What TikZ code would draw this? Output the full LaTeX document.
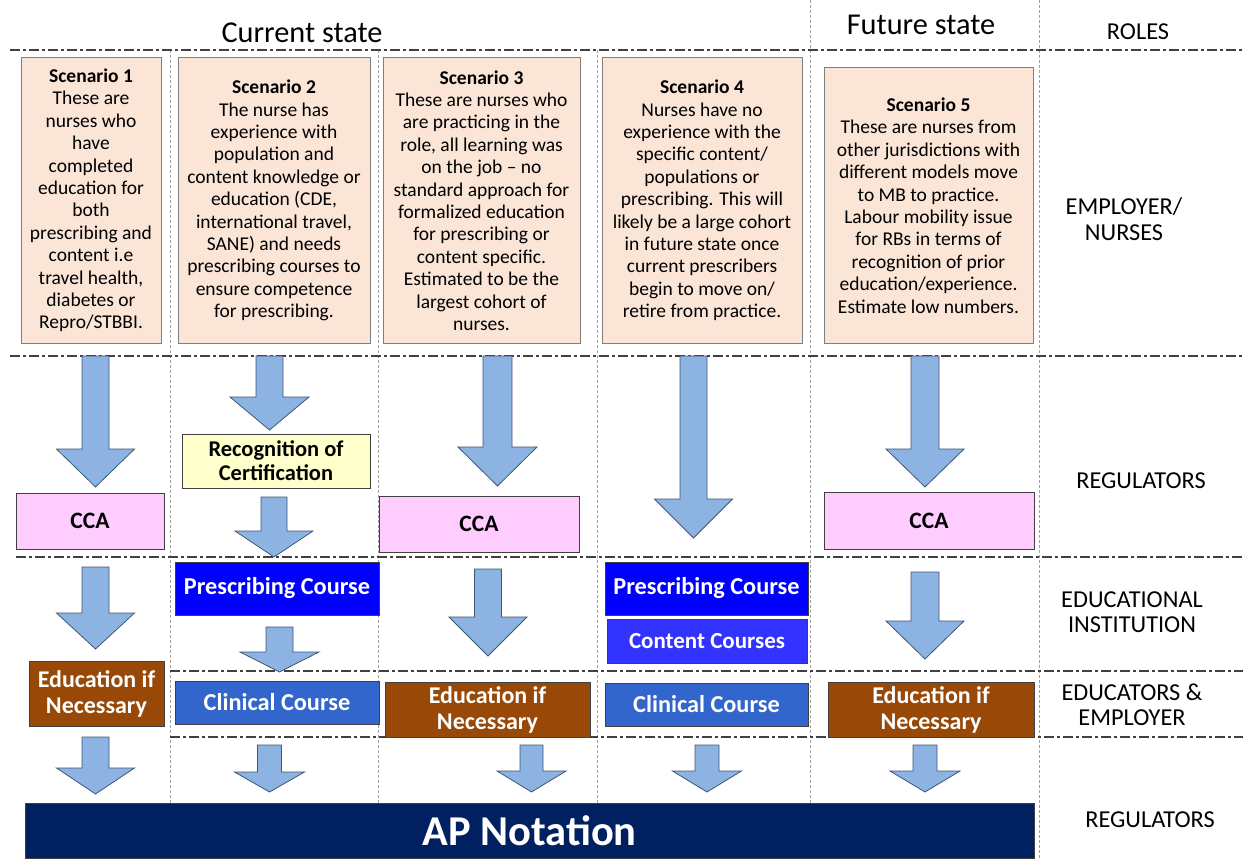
\documentclass[tikz,border=0pt]{standalone}
\usepackage{fontspec}
\setmainfont{Carlito}
\definecolor{peach}{HTML}{FBE5D6}
\definecolor{scborder}{HTML}{7F7F7F}
\definecolor{ccapink}{HTML}{FFCCFF}
\definecolor{recyel}{HTML}{FFFFCC}
\definecolor{prescblue}{HTML}{0000FF}
\definecolor{contblue}{HTML}{3333FF}
\definecolor{clinblue}{HTML}{3366CC}
\definecolor{edubrown}{HTML}{984807}
\definecolor{apnavy}{HTML}{002060}
\definecolor{arrfill}{HTML}{8DB3E2}
\definecolor{arrdraw}{HTML}{3F5578}
\definecolor{sepline}{HTML}{404040}
\definecolor{colline}{HTML}{A0A0A0}
\newcommand\blkarrow[6]{%
  \draw[barrow] ({#1-#2},#4) -- ({#1+#2},#4) -- ({#1+#2},#5) -- ({#1+#3},#5) -- (#1,#6) -- ({#1-#3},#5) -- ({#1-#2},#5) -- cycle;}
\newcommand\rbox[7]{%
  \node[#2, minimum width={#5-#3}, minimum height={#6-#4}] (#1) at ({(#3+#5)/2},{(#4+#6)/2}) {#7};}
\tikzset{
  sep/.style={draw=sepline, line width=1.3pt, dash pattern=on 10pt off 3pt on 3pt off 3pt},
  colsep/.style={draw=colline, line width=0.7pt, dash pattern=on 3pt off 2pt},
  barrow/.style={fill=arrfill, draw=arrdraw, line width=0.8pt, line join=miter},
  basebox/.style={rectangle, inner sep=0pt, line width=1pt, align=center},
  scen/.style={basebox, fill=peach, draw=scborder, font=\fontsize{19.5}{22.4}\selectfont},
  cca/.style={basebox, fill=ccapink, draw=sepline, font=\bfseries\fontsize{23.5}{25}\selectfont},
  rec/.style={basebox, fill=recyel, draw=sepline, font=\bfseries\fontsize{22.5}{24}\selectfont},
  presc/.style={basebox, fill=prescblue, draw=sepline, text=white, font=\bfseries\fontsize{24.3}{25}\selectfont},
  cont/.style={basebox, fill=contblue, draw=sepline, text=white, font=\bfseries\fontsize{23}{25}\selectfont},
  clin/.style={basebox, fill=clinblue, draw=sepline, text=white, font=\bfseries\fontsize{24.3}{25}\selectfont},
  edu/.style={basebox, fill=edubrown, draw=sepline, text=white, font=\bfseries\fontsize{24}{26}\selectfont},
  ap/.style={basebox, fill=apnavy, draw=sepline, text=white, font=\bfseries\fontsize{42.5}{44}\selectfont},
  title/.style={inner sep=0pt, font=\fontsize{30.3}{32}\selectfont},
  role/.style={inner sep=0pt, align=center, font=\fontsize{24.3}{25.5}\selectfont},
}
\begin{document}
\begin{tikzpicture}[x=1pt, y=-1pt]
\useasboundingbox (0,0) rectangle (1243,859);
% column separators
\draw[colsep] (170,50) -- (170,803);
\draw[colsep] (378,50) -- (378,803);
\draw[colsep] (597,50) -- (597,803);
\draw[colsep] (810,0) -- (810,803);
\draw[colsep] (1039,0) -- (1039,859);
% row separators
\draw[sep] (10,50) -- (1243,50);
\draw[sep] (10,356) -- (1243,356);
\draw[sep] (16,557) -- (1243,557);
\draw[sep] (170,671) -- (1243,671);
\draw[sep] (170,737) -- (1243,737);
% titles
\node[title] (cur) at (302,33) {Current state};
\node[title] (fut) at (921,25) {Future state};
% roles
\node[role] (r1) at (1138,32) {ROLES};
\node[role] (r2) at (1124,219) {EMPLOYER/\\NURSES};
\node[role] (r3) at (1141,481) {REGULATORS};
\node[role] (r4) at (1132,612) {EDUCATIONAL\\INSTITUTION};
\node[role] (r5) at (1132,705) {EDUCATORS \&\\EMPLOYER};
\node[role] (r6) at (1150,820) {REGULATORS};
% scenarios
\rbox{s1}{scen}{21}{58}{161}{343}{\textbf{Scenario 1}\\These are\\nurses who\\have\\completed\\education for\\both\\prescribing and\\content i.e\\travel health,\\diabetes or\\Repro/STBBI.}
\rbox{s2}{scen}{178}{58}{370}{343}{\textbf{Scenario 2}\\The nurse has\\experience with\\population and\\content knowledge or\\education (CDE,\\international travel,\\SANE) and needs\\prescribing courses to\\ensure competence\\for prescribing.}
\rbox{s3}{scen}{383}{58}{580}{343}{\textbf{Scenario 3}\\These are nurses who\\are practicing in the\\role, all learning was\\on the job – no\\standard approach for\\formalized education\\for prescribing or\\content specific.\\Estimated to be the\\largest cohort of\\nurses.}
\rbox{s4}{scen}{602}{58}{802}{343}{\textbf{Scenario 4}\\Nurses have no\\experience with the\\specific content/\\populations or\\prescribing. This will\\likely be a large cohort\\in future state once\\current prescribers\\begin to move on/\\retire from practice.}
\rbox{s5}{scen}{824}{68}{1033}{343}{\textbf{Scenario 5}\\These are nurses from\\other jurisdictions with\\different models move\\to MB to practice.\\Labour mobility issue\\for RBs in terms of\\recognition of prior\\education/experience.\\Estimate low numbers.}
% arrows
\blkarrow{95.5}{13.5}{39}{356}{449}{487}
\blkarrow{95.5}{13.5}{39}{567}{613}{649}
\blkarrow{95.5}{13.5}{39}{737}{768}{794}
\blkarrow{269.5}{13.5}{39.5}{356}{397}{430}
\blkarrow{274}{13}{39}{497}{531}{557}
\blkarrow{279.5}{13.5}{39.5}{627}{652}{672}
\blkarrow{269.5}{12}{35}{745}{772}{792}
\blkarrow{497.5}{14.5}{39.5}{356}{447}{486}
\blkarrow{488}{13.5}{39}{569}{617}{656}
\blkarrow{531.5}{11.5}{34.5}{745}{771}{792}
\blkarrow{693.5}{13.5}{39}{356}{499}{538}
\blkarrow{707}{12}{34.5}{745}{771}{792}
\blkarrow{925}{14}{39}{356}{449}{487}
\blkarrow{925}{14}{39}{572}{621}{659}
\blkarrow{925}{12}{35}{745}{771}{792}
% boxes
\rbox{cca1}{cca}{16}{493}{164}{549}{CCA}
\rbox{rec2}{rec}{182}{434}{370}{488}{Recognition of\\Certification}
\rbox{cca3}{cca}{379}{496}{579}{552}{CCA}
\rbox{cca5}{cca}{824}{492}{1034}{549}{CCA}
\rbox{pc2}{presc}{175}{562}{379}{615}{Prescribing Course}
\rbox{pc4}{presc}{605}{562}{808}{615}{Prescribing Course}
\rbox{cc4}{cont}{607}{619}{807}{663}{Content Courses}
\rbox{cl2}{clin}{175}{681}{379}{724}{Clinical Course}
\rbox{cl4}{clin}{605}{683}{808}{726}{Clinical Course}
\rbox{ed1}{edu}{29}{661}{164}{726}{Education if\\Necessary}
\rbox{ed3}{edu}{385}{682}{590}{737}{Education if\\Necessary}
\rbox{ed5}{edu}{828}{682}{1034}{737}{Education if\\Necessary}
\rbox{apn}{ap}{25}{803}{1034}{858}{AP Notation}
\end{tikzpicture}
\end{document}
